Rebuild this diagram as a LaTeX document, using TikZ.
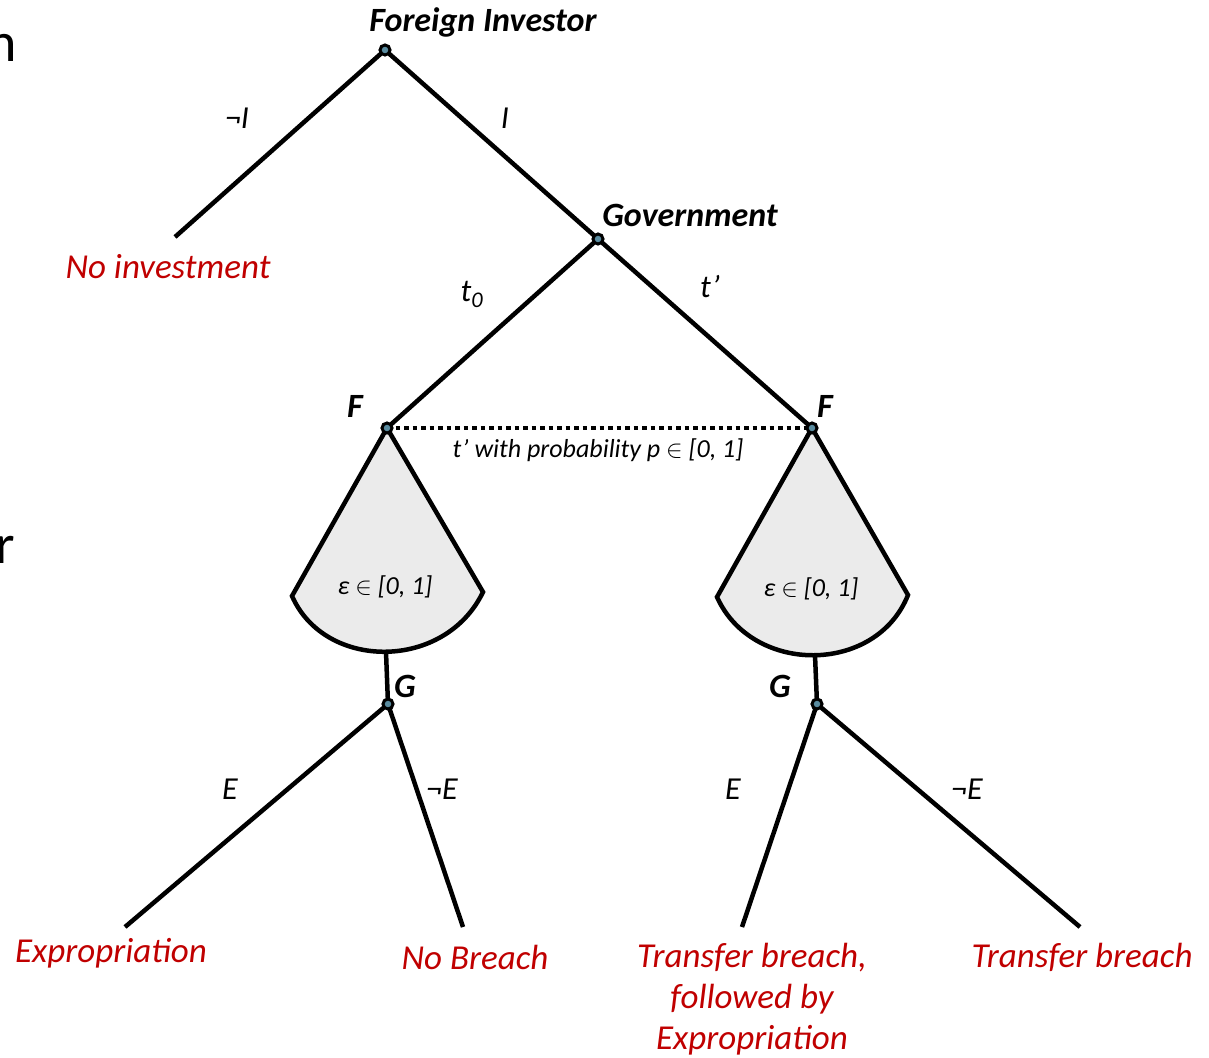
\documentclass[tikz,border=0pt]{standalone}
\usepackage{fontspec}
\setmainfont{Carlito}
\definecolor{leafred}{RGB}{192,0,0}
\definecolor{fangray}{RGB}{235,235,235}
\definecolor{dotfill}{RGB}{90,140,160}
\begin{document}
\begin{tikzpicture}[x=1pt,y=-1pt,line width=4.5pt,
  dot/.style={circle,draw=black,line width=3pt,fill=dotfill,inner sep=0pt,minimum size=10pt},
  player/.style={font=\fontsize{34}{40}\selectfont\bfseries\itshape},
  act/.style={font=\fontsize{32}{38}\selectfont\itshape},
  leaf/.style={font=\fontsize{35}{41}\selectfont\itshape,text=leafred,align=center},
  small/.style={font=\fontsize{26}{30}\selectfont\itshape},
  frag/.style={font=\fontsize{56}{60}\selectfont}]
\useasboundingbox (0,0) rectangle (1209,1057);
% positions
\coordinate (fi) at (385,50);
\coordinate (gov) at (598,239);
\coordinate (fl) at (387,428);
\coordinate (fr) at (812,428);
\coordinate (gl) at (388,704);
\coordinate (gr) at (817,704);
\coordinate (noinv) at (175,237);
\coordinate (l1) at (125,927);
\coordinate (l2) at (463,927);
\coordinate (r1) at (742,927);
\coordinate (r2) at (1080,927);
\coordinate (fanLb) at (386,652);
\coordinate (fanRb) at (815,655);
% fans
\filldraw[fill=fangray,line join=miter] (fl) -- (292,596) .. controls (325,671) and (445,671) .. (483,592) -- cycle;
\filldraw[fill=fangray,line join=miter] (fr) -- (717,597) .. controls (752,675) and (876,675) .. (908,595) -- cycle;
% edges
\draw (fi) -- (noinv);
\draw (fi) -- (gov);
\draw (gov) -- (fl);
\draw (gov) -- (fr);
\draw[line width=4.5pt,dash pattern=on 4.5pt off 4pt] (fl) -- (fr);
\draw (fanLb) -- (gl);
\draw (fanRb) -- (gr);
\draw (gl) -- (l1);
\draw (gl) -- (l2);
\draw (gr) -- (r1);
\draw (gr) -- (r2);
% dots
\node[dot] (fidot) at (fi) {};
\node[dot] (govdot) at (gov) {};
\node[dot] (fldot) at (fl) {};
\node[dot] (frdot) at (fr) {};
\node[dot] (gldot) at (gl) {};
\node[dot] (grdot) at (gr) {};
% player labels
\node[player] (lfi) at (483,22) {Foreign Investor};
\node[player] (lgov) at (690,215) {Government};
\node[player] (lfl) at (355,406) {F};
\node[player] (lfr) at (825,406) {F};
\node[player] (lgl) at (405,686) {G};
\node[player] (lgr) at (780,686) {G};
% action labels
\node[act] (a1) at (237,118) {¬I};
\node[act] (a2) at (505,118) {I};
\node[act] (a3) at (472,294) {t\textsubscript{0}};
\node[act] (a4) at (710,287) {t’};
\node[act] (a5) at (230,789) {E};
\node[act] (a6) at (442,789) {¬E};
\node[act] (a7) at (733,789) {E};
\node[act] (a8) at (967,789) {¬E};
\node[small] (prob) at (598,450) {t’ with probability p $\in$ [0, 1]};
\node[small] (epsl) at (385,587) {ε $\in$ [0, 1]};
\node[small] (epsr) at (811,589) {ε $\in$ [0, 1]};
% outcomes
\node[leaf] (onoinv) at (168,267) {No investment};
\node[leaf] (oexp) at (111,953) {Expropriation};
\node[leaf] (onob) at (475,957) {No Breach};
\node[leaf,anchor=north] (otbe) at (752,938) {Transfer breach,\\followed by\\Expropriation};
\node[leaf] (otb) at (1082,957) {Transfer breach};
% cut-off fragments
\node[frag,anchor=east,inner sep=0pt] (fragn) at (19,48) {n};
\node[frag,anchor=east,inner sep=0pt] (fragr) at (17,550) {r};
\end{tikzpicture}
\end{document}
